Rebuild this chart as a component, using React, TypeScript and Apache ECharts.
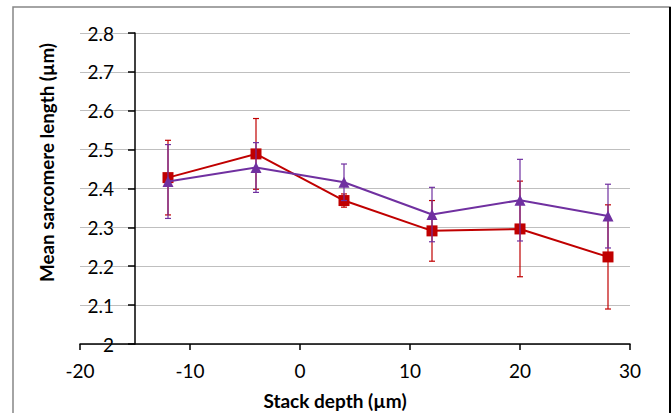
import React, { useEffect, useRef } from "react";
import * as echarts from "echarts";

const depths = [-12, -4, 4, 12, 20, 28];
const redMean = [2.428, 2.489, 2.369, 2.291, 2.296, 2.224];
const redErr = [0.096, 0.091, 0.017, 0.078, 0.123, 0.134];
const purpleMean = [2.418, 2.454, 2.416, 2.333, 2.37, 2.329];
const purpleErr = [0.095, 0.064, 0.047, 0.07, 0.105, 0.082];

const RED = "#c00000";
const PURPLE = "#7030a0";
const FONT = "Lato";

function errorSeries(means: number[], errs: number[], color: string, z: number) {
  return {
    type: "custom",
    z,
    silent: true,
    data: depths.map((d, i) => [d, means[i] - errs[i], means[i] + errs[i]]),
    renderItem: (params: any, api: any) => {
      const x = api.value(0);
      const lo = api.coord([x, api.value(1)]);
      const hi = api.coord([x, api.value(2)]);
      const cap = 3;
      const style = { stroke: color, lineWidth: 1.2 };
      return {
        type: "group",
        children: [
          { type: "line", shape: { x1: lo[0], y1: lo[1], x2: hi[0], y2: hi[1] }, style },
          { type: "line", shape: { x1: lo[0] - cap, y1: lo[1], x2: lo[0] + cap, y2: lo[1] }, style },
          { type: "line", shape: { x1: hi[0] - cap, y1: hi[1], x2: hi[0] + cap, y2: hi[1] }, style },
        ],
      };
    },
  };
}

export default function App() {
  const ref = useRef<HTMLDivElement>(null);
  useEffect(() => {
    if (!ref.current) return;
    const chart = echarts.init(ref.current, null, { renderer: "svg" });
    chart.setOption({
      animation: false,
      backgroundColor: "#ffffff",
      grid: { left: 80, right: 41, top: 33, bottom: 69, containLabel: false },
      xAxis: {
        type: "value",
        min: -20,
        max: 30,
        interval: 10,
        axisLine: { onZero: false, lineStyle: { color: "#000", width: 1.5 } },
        axisTick: { show: true, length: 6, lineStyle: { color: "#000", width: 1.5 } },
        axisLabel: { color: "#000", fontSize: 19, fontFamily: FONT, margin: 17 },
        splitLine: { show: false },
      },
      yAxis: {
        type: "value",
        min: 2,
        max: 2.8,
        interval: 0.1,
        position: "left",
        offset: -55,
        axisLine: { show: true, onZero: false, lineStyle: { color: "#000", width: 1.5 } },
        axisTick: { show: true, length: 7, lineStyle: { color: "#000", width: 1.5 } },
        axisLabel: { color: "#000", fontSize: 19, fontFamily: FONT, margin: 21 },
        splitLine: { show: true, lineStyle: { color: "#bfbfbf", width: 1.2 } },
      },
      graphic: [
        {
          type: "rect",
          shape: { x: 13, y: 7, width: 657, height: 420 },
          style: { fill: "none", stroke: "#868686", lineWidth: 1.5 },
          silent: true,
        },
        {
          type: "line",
          shape: { x1: 670, y1: 7, x2: 670, y2: 413 },
          style: { stroke: "#000", lineWidth: 2 },
          silent: true,
        },
        {
          type: "text",
          x: 335,
          y: 400,
          style: {
            text: "Stack depth (µm)",
            fontSize: 19,
            fontWeight: "bold",
            fontFamily: FONT,
            fill: "#000",
            align: "center",
            verticalAlign: "middle",
          },
        },
        {
          type: "text",
          x: 46,
          y: 162.5,
          rotation: Math.PI / 2,
          style: {
            text: "Mean sarcomere length (µm)",
            fontSize: 18.8,
            fontWeight: "bold",
            fontFamily: FONT,
            fill: "#000",
            align: "center",
            verticalAlign: "middle",
          },
        },
      ],
      series: [
        errorSeries(redMean, redErr, RED, 2),
        {
          type: "line",
          z: 3,
          data: depths.map((d, i) => [d, redMean[i]]),
          symbol: "rect",
          symbolSize: 11,
          lineStyle: { color: RED, width: 2 },
          itemStyle: { color: RED },
        },
        errorSeries(purpleMean, purpleErr, PURPLE, 4),
        {
          type: "line",
          z: 5,
          data: depths.map((d, i) => [d, purpleMean[i]]),
          symbol: "triangle",
          symbolSize: 11,
          lineStyle: { color: PURPLE, width: 2 },
          itemStyle: { color: PURPLE },
        },
      ],
    });
    return () => chart.dispose();
  }, []);
  return (
    <div
      ref={ref}
      style={{ position: "fixed", left: 0, top: 0, width: 671, height: 413 }}
    />
  );
}
